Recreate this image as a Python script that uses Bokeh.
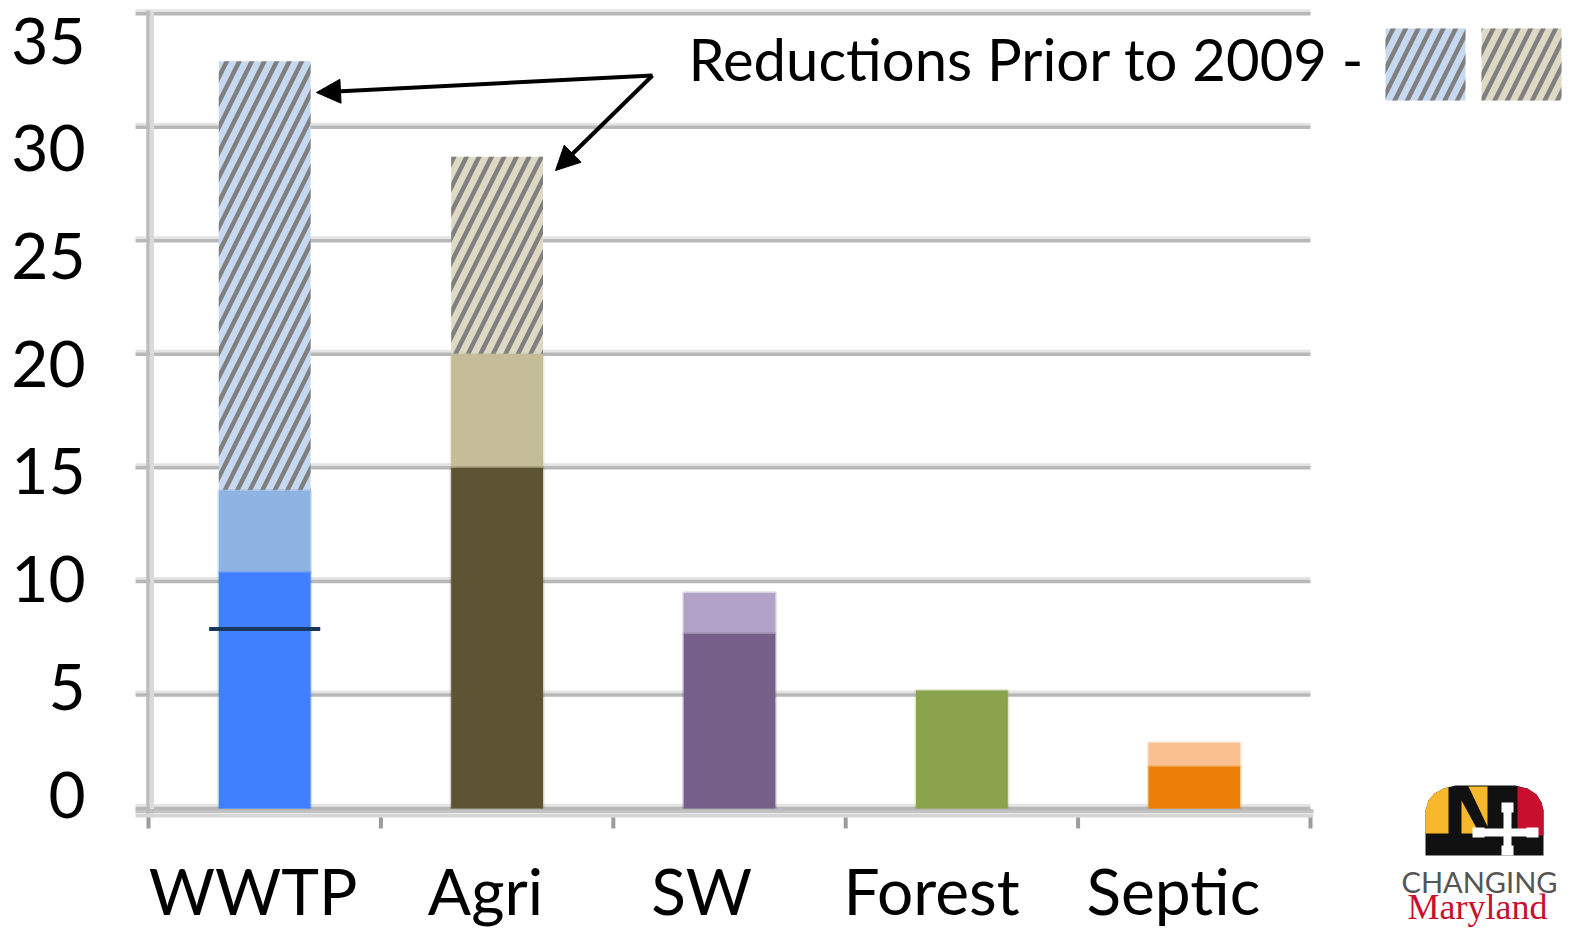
from bokeh.plotting import figure
from bokeh.models import Range1d, Arrow, NormalHead, ColumnDataSource
from bokeh.core.properties import value
from bokeh.embed import file_html
from bokeh.resources import INLINE

# ---------------- data ----------------
categories = ["WWTP", "Agri", "SW", "Forest", "Septic"]
current_load = [10.4, 15.0, 7.7, 5.2, 1.85]      # dark segment
remaining_load = [3.6, 5.0, 1.8, 0.0, 1.05]      # light segment
prior_2009 = [18.9, 8.7, 0.0, 0.0, 0.0]          # hatched segment
wwtp_marker = [7.9]
y_ticks = [0, 5, 10, 15, 20, 25, 30, 35]
y_tick_labels = ["0", "5", "10", "15", "20", "25", "30", "35"]

dark_colors = ["#4080ff", "#5c5433", "#76608a", "#8aa34c", "#eb7f08"]
light_colors = ["#8eb4e3", "#c4bd97", "#b3a2c7", "#8aa34c", "#fac090"]
hatch_colors = ["#c6d9f1", "#ddd9c4", "#ddd9c4", "#ddd9c4", "#ddd9c4"]
label_offsets = [0.45, 0.45, 0.38, 0.37, 0.41]   # category label placement within its slot

FONT = "Lato"
W, H = 1572, 930

# page pixel -> data helpers (layout of decorations only)
X0, XS = 148, 232.4     # x of category 0 boundary, pixels per category
Y0, YS = 808, 22.71     # y of value 0, pixels per unit
SHIFT = 0.39            # baseline correction, fraction of font size


def px(X):
    return (X - X0) / XS


def py(Y):
    return (Y0 - Y) / YS


def pyb(Y, fs):
    # baseline position for a text of font size fs
    return py(Y - SHIFT * fs)


p = figure(width=W, height=H, x_range=Range1d(px(0), px(W)), y_range=Range1d(py(H), py(0)),
           x_axis_location=None, y_axis_location=None,
           output_backend="svg", toolbar_location=None, min_border=0)
p.outline_line_color = None
p.grid.visible = False
p.background_fill_color = "white"
p.border_fill_color = "white"

n = len(categories)

# ---------------- grid & axes (drawn from tick arrays) ----------------
p.segment(x0=[px(135)] * len(y_ticks), x1=[n] * len(y_ticks),
          y0=[v + 3 / YS for v in y_ticks], y1=[v + 3 / YS for v in y_ticks],
          line_color="#e4e4e4", line_width=3)
p.segment(x0=[px(135)] * len(y_ticks), x1=[n] * len(y_ticks), y0=y_ticks, y1=y_ticks,
          line_color="#b8b8b8", line_width=3.5)
# vertical axis line
p.segment(x0=[px(147.5)], x1=[px(147.5)], y0=[py(817)], y1=[py(10)], line_color="#bcbcbc", line_width=3.5)
p.segment(x0=[px(151.5)], x1=[px(151.5)], y0=[py(817)], y1=[py(10)], line_color="#dadada", line_width=4)

# ---------------- bars ----------------
xc = [i + 0.5 for i in range(n)]
bw = 0.395
tops_light = [a + b for a, b in zip(current_load, remaining_load)]
tops_hatch = [a + b for a, b in zip(tops_light, prior_2009)]

idx_h = [i for i in range(n) if prior_2009[i] > 0]
src_h = ColumnDataSource(dict(x=[xc[i] for i in idx_h], b=[tops_light[i] for i in idx_h],
                              t=[tops_hatch[i] for i in idx_h], c=[hatch_colors[i] for i in idx_h]))
p.vbar(x="x", width=bw, bottom="b", top="t", source=src_h, fill_color="c", line_color=None,
       hatch_pattern="/", hatch_color="#808080", hatch_weight=4.5, hatch_scale=25)

idx_l = [i for i in range(n) if remaining_load[i] > 0]
src_l = ColumnDataSource(dict(x=[xc[i] for i in idx_l], b=[current_load[i] for i in idx_l],
                              t=[tops_light[i] for i in idx_l], c=[light_colors[i] for i in idx_l]))
p.vbar(x="x", width=bw, bottom="b", top="t", source=src_l, fill_color="c",
       line_color="c", line_alpha=0.35, line_width=3)

src_d = ColumnDataSource(dict(x=xc, t=current_load, c=dark_colors))
p.vbar(x="x", width=bw, bottom=0, top="t", source=src_d, fill_color="c",
       line_color="c", line_alpha=0.25, line_width=3)

# WWTP marker line
p.segment(x0=[xc[0] - 0.239], x1=[xc[0] + 0.239], y0=wwtp_marker, y1=wwtp_marker,
          line_color="#17375e", line_width=4)

# horizontal axis line and category-boundary ticks
p.segment(x0=[px(135)], x1=[n + 3 / XS], y0=[py(810.5)], y1=[py(810.5)],
          line_color="#b8b8b8", line_width=4, line_alpha=0.85)
p.segment(x0=[px(135)], x1=[n + 3 / XS], y0=[py(815)], y1=[py(815)],
          line_color="#d6d6d6", line_width=4)
bounds = list(range(n + 1))
p.segment(x0=bounds, x1=bounds, y0=[py(817)] * len(bounds), y1=[py(828)] * len(bounds),
          line_color="#9c9c9c", line_width=4)

# ---------------- tick labels ----------------
p.text(x=[px(85)] * len(y_ticks), y=[pyb(819 - 21.54 * v, 64) for v in y_ticks], text=y_tick_labels,
       text_align="right", text_baseline="alphabetic", text_font=value(FONT),
       text_font_size="64px", text_color="black")
p.text(x=[i + o for i, o in zip(range(n), label_offsets)], y=[pyb(915, 64)] * n, text=categories,
       text_align="center", text_baseline="alphabetic", text_font=value(FONT),
       text_font_size="64px", text_color="black")

# ---------------- annotation text, arrows, legend swatches ----------------
p.text(x=[px(688)], y=[pyb(81, 58)], text=["Reductions Prior to 2009 -"], text_font=value(FONT),
       text_font_size="58px", text_color="black", text_baseline="alphabetic", text_align="left")
for xe, ye in [(316, 92), (555, 170)]:
    p.add_layout(Arrow(end=NormalHead(size=24, fill_color="black", line_color="black"),
                       x_start=px(652), y_start=py(75), x_end=px(xe), y_end=py(ye),
                       line_color="black", line_width=4))
p.quad(left=[px(1385), px(1481)], right=[px(1465), px(1561)], top=[py(28)] * 2, bottom=[py(100)] * 2,
       fill_color=[hatch_colors[0], hatch_colors[1]], line_color=None,
       hatch_pattern="/", hatch_color="#808080", hatch_weight=4.5, hatch_scale=25)

# ---------------- logo ----------------
logo_shapes = [
    ([(1425, 855), (1425, 810), (1428, 800), (1434, 793), (1443, 788), (1455, 785), (1515, 785),
      (1527, 788), (1536, 794), (1541, 802), (1543, 810), (1543, 855)], "#111111"),
    ([(1425, 833), (1425, 810), (1428, 800), (1434, 793), (1443, 788), (1448, 787), (1448, 833)], "#f7b92b"),
    ([(1461, 800), (1461, 833), (1479, 833)], "#f7b92b"),
    ([(1468, 786), (1487, 786), (1487, 826)], "#f7b92b"),
    ([(1517, 786), (1527, 788), (1536, 794), (1541, 802), (1543, 810), (1543, 835), (1517, 835)], "#c8102e"),
    ([(1503, 806), (1511, 806), (1511, 852), (1503, 852)], "white"),
    ([(1476, 828), (1534, 828), (1534, 836), (1476, 836)], "white"),
]
for cx, cy in [(1507, 807), (1507, 850), (1478, 832), (1532, 832)]:
    logo_shapes.append(([(cx - 6, cy - 5), (cx + 6, cy - 5), (cx + 6, cy + 5), (cx - 6, cy + 5)], "white"))
p.patches(xs=[[px(a) for a, b in s] for s, c in logo_shapes],
          ys=[[py(b) for a, b in s] for s, c in logo_shapes],
          fill_color=[c for s, c in logo_shapes], line_color=None)

p.text(x=[px(1479)], y=[pyb(892, 29)], text=["CHANGING"], text_font=value(FONT),
       text_font_size="29px", text_color="#555555", text_align="center", text_baseline="alphabetic")
p.text(x=[px(1477)], y=[pyb(921, 36)], text=["Maryland"], text_font=value("Liberation Serif"),
       text_font_size="36px", text_color="#c8102e", text_align="center", text_baseline="alphabetic")

open("out.html", "w").write(file_html(p, INLINE))
